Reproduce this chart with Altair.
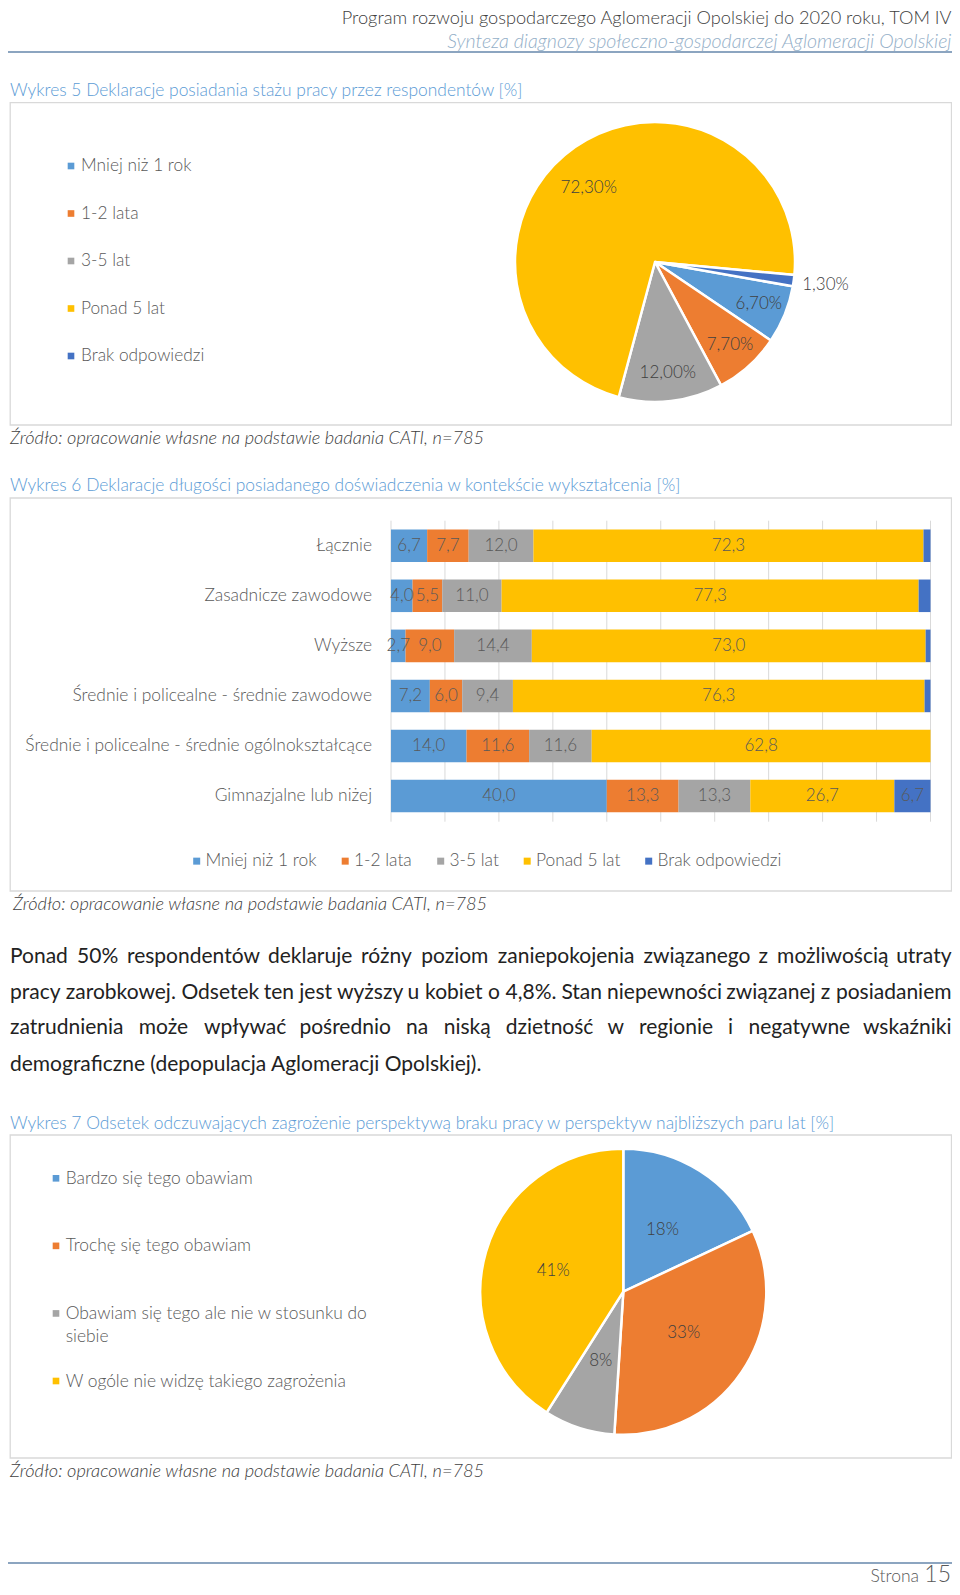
import math
import altair as alt
import pandas as pd

OFF = 8
FONT = "Lato"
GRAY = "#595959"
DARK = "#404040"
TITLE_BLUE = "#5B9BD5"
PALETTE = ["#5B9BD5", "#ED7D31", "#A5A5A5", "#FFC000", "#4472C4"]
RIGHT = 951.5

# ---------------- data ----------------
exp_cats = ["Mniej niż 1 rok", "1-2 lata", "3-5 lat", "Ponad 5 lat", "Brak odpowiedzi"]
exp_vals = [6.7, 7.7, 12.0, 72.3, 1.3]

edu_cats = [
    "Łącznie",
    "Zasadnicze zawodowe",
    "Wyższe",
    "Średnie i policealne - średnie zawodowe",
    "Średnie i policealne - średnie ogólnokształcące",
    "Gimnazjalne lub niżej",
]
edu_mniej = [6.7, 4.0, 2.7, 7.2, 14.0, 40.0]
edu_12 = [7.7, 5.5, 9.0, 6.0, 11.6, 13.3]
edu_35 = [12.0, 11.0, 14.4, 9.4, 11.6, 13.3]
edu_ponad = [72.3, 77.3, 73.0, 76.3, 62.8, 26.7]
edu_brak = [1.3, 2.2, 0.9, 1.1, 0.0, 6.7]
grid_ticks = [0, 10, 20, 30, 40, 50, 60, 70, 80, 90, 100]

fear_cats = [
    "Bardzo się tego obawiam",
    "Trochę się tego obawiam",
    "Obawiam się tego ale nie w stosunku do siebie",
    "W ogóle nie widzę takiego zagrożenia",
]
fear_vals = [18, 33, 8, 41]

paragraph = [
    "Ponad 50% respondentów deklaruje różny poziom zaniepokojenia związanego z możliwością utraty",
    "pracy zarobkowej. Odsetek ten jest wyższy u kobiet o 4,8%. Stan niepewności związanej z posiadaniem",
    "zatrudnienia może wpływać pośrednio na niską dzietność w regionie i negatywne wskaźniki",
    "demograficzne (depopulacja Aglomeracji Opolskiej).",
]
source_txt = "Źródło: opracowanie własne na podstawie badania CATI, n=785"


# ---------------- helpers ----------------
def one():
    return pd.DataFrame({"t": [""]})


def label(text, x, y, size, color, align="left", style="normal", weight=300, baseline="middle"):
    return alt.Chart(pd.DataFrame({"t": [text]})).mark_text(
        align=align, baseline=baseline, fontSize=size, color=color, font=FONT,
        fontStyle=style, fontWeight=weight,
    ).encode(text="t:N", x=alt.value(x - OFF), y=alt.value(y - OFF))


def box(x0, y0, x1, y1):
    return alt.Chart(one()).mark_rect(fill="white", stroke="#D9D9D9", strokeWidth=1.3).encode(
        x=alt.value(x0 - OFF), x2=alt.value(x1 - OFF), y=alt.value(y0 - OFF), y2=alt.value(y1 - OFF))


def hrule(x0, x1, y, color, w):
    return alt.Chart(one()).mark_rule(color=color, strokeWidth=w).encode(
        x=alt.value(x0 - OFF), x2=alt.value(x1 - OFF), y=alt.value(y - OFF))


CW = {
    "a": .50, "ą": .50, "b": .56, "c": .46, "ć": .46, "d": .56, "e": .52, "ę": .52, "f": .32, "g": .50,
    "h": .56, "i": .24, "j": .24, "k": .50, "l": .24, "ł": .27, "m": .84, "n": .56, "ń": .56, "o": .56,
    "ó": .56, "p": .56, "q": .56, "r": .36, "s": .42, "ś": .42, "t": .34, "u": .56, "v": .50, "w": .76,
    "x": .49, "y": .50, "z": .45, "ż": .45, "ź": .45, " ": .19, ",": .22, ".": .22, "(": .30, ")": .30,
    "%": .78, "A": .68, "O": .78, "P": .58, "S": .50, "W": 1.0,
}


def em(s):
    return sum(CW.get(c, 0.58 if c.isdigit() else (0.65 if c.isupper() else 0.53)) for c in s)


def justified(line, x0, x1, y, size, color):
    words = line.split(" ")
    widths = [em(w) * size for w in words]
    gap = (x1 - x0 - sum(widths)) / (len(words) - 1)
    xs, pos = [], x0
    for w in widths:
        xs.append(pos)
        pos += w + gap
    df = pd.DataFrame({"w": words[:-1], "x": [v - OFF for v in xs[:-1]], "y": [y - OFF] * (len(words) - 1)})
    left = alt.Chart(df).mark_text(align="left", baseline="middle", fontSize=size, color=color,
                                   font=FONT, fontWeight=400).encode(
        text="w:N", x=alt.X("x:Q", scale=None), y=alt.Y("y:Q", scale=None))
    last = label(words[-1], x1, y, size, color, align="right", weight=400)
    return [left, last]


# ---------------- pie 1 ----------------
df_exp = pd.DataFrame({"cat": exp_cats, "v": exp_vals, "o": list(range(len(exp_cats)))})
df_exp["lab"] = [f"{v:.2f}".replace(".", ",") + "%" for v in exp_vals]
a0 = math.radians(100)
exp_color = alt.Color("cat:N", scale=alt.Scale(domain=exp_cats, range=PALETTE), legend=None)
base1 = alt.Chart(df_exp).encode(
    theta=alt.Theta("v:Q", stack=True, scale=alt.Scale(domain=[0, 100], range=[a0, a0 + 2 * math.pi])),
    order=alt.Order("o:Q"),
    x=alt.value(655 - OFF), y=alt.value(262 - OFF),
)
arc1 = base1.mark_arc(outerRadius=140, stroke="white", strokeWidth=2.5).encode(color=exp_color)
pie_txt = dict(fontSize=17, color=DARK, font=FONT, fontWeight=300)
in1 = base1.transform_calculate(li="datum.v >= 2 && datum.v < 50 ? datum.lab : ''").mark_text(
    radius=112, **pie_txt).encode(detail="cat:N", text="li:N")
big1 = base1.transform_calculate(lb="datum.v >= 50 ? datum.lab : ''").mark_text(
    radius=95, dx=-12, dy=4, **pie_txt).encode(detail="cat:N", text="lb:N")
out1 = base1.transform_calculate(lo="datum.v < 2 ? datum.lab : ''").mark_text(
    radius=172, **pie_txt).encode(detail="cat:N", text="lo:N")
leg1_y = alt.Y("cat:N", sort=exp_cats, scale=alt.Scale(range=[166 - OFF, 356 - OFF], padding=0), axis=None)
leg1_sym = alt.Chart(df_exp).mark_square(size=44, opacity=1).encode(
    y=leg1_y, x=alt.value(71 - OFF), color=exp_color)
leg1_txt = alt.Chart(df_exp).mark_text(align="left", baseline="middle", fontSize=17.3, color=GRAY,
                                       font=FONT, fontWeight=300).encode(
    y=leg1_y, x=alt.value(81 - OFF), text="cat:N")
pie1 = alt.layer(arc1, in1, big1, out1, leg1_sym, leg1_txt)

# ---------------- stacked bars ----------------
rows = []
for si, (sname, vals) in enumerate(zip(exp_cats, [edu_mniej, edu_12, edu_35, edu_ponad, edu_brak])):
    for c, v in zip(edu_cats, vals):
        rows.append({"cat": c, "s": sname, "so": si, "v": v, "lab": f"{v:.1f}".replace(".", ",")})
df_edu = pd.DataFrame(rows)

ybar = alt.Y("cat:N", sort=edu_cats, axis=None,
             scale=alt.Scale(range=[520.7 - OFF, 821.1 - OFF], paddingInner=0.35, paddingOuter=0.175))
xs = alt.Scale(domain=[0, 100], range=[391 - OFF, 930.5 - OFF])
grid = alt.Chart(pd.DataFrame({"t": grid_ticks})).mark_rule(color="#D9D9D9", strokeWidth=1).encode(
    x=alt.X("t:Q", scale=xs, axis=None), y=alt.value(520.7 - OFF), y2=alt.value(821.7 - OFF))
bars = alt.Chart(df_edu).mark_bar().encode(
    y=ybar,
    x=alt.X("v:Q", stack="zero", scale=xs, axis=None),
    color=alt.Color("s:N", scale=alt.Scale(domain=exp_cats, range=PALETTE),
                    legend=alt.Legend(orient="none", legendX=188 - OFF, legendY=852 - OFF,
                                      direction="horizontal", columns=5, title=None,
                                      symbolType="square", symbolSize=49, symbolStrokeWidth=0,
                                      labelFont=FONT, labelFontSize=17.4, labelColor=GRAY,
                                      labelFontWeight=300, labelOffset=0, columnPadding=19.5,
                                      padding=0)),
    order=alt.Order("so:Q"),
)
bar_txt = alt.Chart(df_edu).transform_window(
    cum="sum(v)", groupby=["cat"], sort=[alt.SortField("so")], frame=[None, 0]
).transform_calculate(mid="datum.cum - datum.v / 2").transform_filter(
    "datum.v > 0 && (datum.s != 'Brak odpowiedzi' || datum.v > 5)"
).mark_text(fontSize=17, color=GRAY, font=FONT, fontWeight=300).encode(
    y=ybar, x=alt.X("mid:Q", scale=xs, axis=None), text="lab:N")
cat_txt = alt.Chart(pd.DataFrame({"cat": edu_cats})).mark_text(
    align="right", baseline="middle", fontSize=17.4, color=GRAY, font=FONT, fontWeight=300).encode(
    y=ybar, x=alt.value(372 - OFF), text="cat:N")
barchart = alt.layer(grid, bars, bar_txt, cat_txt)

# ---------------- pie 2 ----------------
fear_pal = PALETTE[:4]
df_fear = pd.DataFrame({"cat": fear_cats, "v": fear_vals, "o": list(range(len(fear_cats)))})
df_fear["lab"] = [f"{v}%" for v in fear_vals]
df_fear["leg"] = [c.replace(" do siebie", " do|siebie") for c in fear_cats]
fear_color = alt.Color("cat:N", scale=alt.Scale(domain=fear_cats, range=fear_pal), legend=None)
base2 = alt.Chart(df_fear).encode(
    theta=alt.Theta("v:Q", stack=True, scale=alt.Scale(domain=[0, 100], range=[0, 2 * math.pi])),
    order=alt.Order("o:Q"),
    x=alt.value(623.3 - OFF), y=alt.value(1291.7 - OFF),
)
arc2 = base2.mark_arc(outerRadius=143, stroke="white", strokeWidth=2.5).encode(color=fear_color)
in2 = base2.mark_text(radius=73, **pie_txt).encode(detail="cat:N", text="lab:N")
leg2_y = alt.Y("cat:N", sort=fear_cats, scale=alt.Scale(range=[1178.3 - OFF, 1381 - OFF], padding=0), axis=None)
leg2_sym = alt.Chart(df_fear).mark_square(size=44, opacity=1).encode(
    y=leg2_y, x=alt.value(56 - OFF), color=fear_color)
leg2_txt = alt.Chart(df_fear).mark_text(align="left", baseline="alphabetic", dy=5.5, fontSize=17.4,
                                        color=GRAY, font=FONT, fontWeight=300, lineBreak="|",
                                        lineHeight=23).encode(
    y=leg2_y, x=alt.value(65.7 - OFF), text="leg:N")
pie2 = alt.layer(arc2, in2, leg2_sym, leg2_txt)

# ---------------- page furniture ----------------
layers = [
    label("Program rozwoju gospodarczego Aglomeracji Opolskiej do 2020 roku, TOM IV", RIGHT, 19, 18.2, DARK,
          align="right"),
    label("Synteza diagnozy społeczno-gospodarczej Aglomeracji Opolskiej", RIGHT, 42, 19.6, "#94AFC8",
          align="right", style="italic"),
    hrule(8, 952, 52, "#8CA5C0", 2),
    label("Wykres 5 Deklaracje posiadania stażu pracy przez respondentów [%]", 10, 90.5, 17.4, TITLE_BLUE),
    box(10.2, 102.7, RIGHT, 425),
    label(source_txt, 10, 439, 18.2, DARK, style="italic"),
    label("Wykres 6 Deklaracje długości posiadanego doświadczenia w kontekście wykształcenia [%]", 10, 486, 17.4,
          TITLE_BLUE),
    box(10.2, 498, RIGHT, 891),
    label(source_txt, 13, 905, 18.2, DARK, style="italic"),
    label("Wykres 7 Odsetek odczuwających zagrożenie perspektywą braku pracy w perspektyw najbliższych paru lat [%]",
          10, 1124, 17.4, TITLE_BLUE),
    box(10.2, 1135, RIGHT, 1458),
    label(source_txt, 10, 1471.5, 18.2, DARK, style="italic"),
    hrule(8, 952, 1563, "#8CA5C0", 2),
    label("Strona", 919, 1582, 17.5, GRAY, align="right", baseline="alphabetic"),
    label("15", 951, 1582, 23, GRAY, align="right", baseline="alphabetic"),
]
para_y = [957, 992.6, 1028.2, 1064.8]
avail = RIGHT - 10
fit = min(avail / (em(l) + 0.02 * len(l.split(" "))) for l in paragraph[:3])
para_size = min(21.0, fit)
for i, line in enumerate(paragraph[:3]):
    layers += justified(line, 10, RIGHT, para_y[i], para_size, "#222222")
layers.append(label(paragraph[3], 10, para_y[3], para_size, "#222222", weight=400))

chart = alt.layer(*layers, pie1, barchart, pie2).resolve_scale(
    x="independent", y="independent", color="independent", theta="independent"
).resolve_legend(color="independent").properties(
    width=944, height=1579, padding=0, autosize=alt.AutoSizeParams(type="none"),
    background="white",
).configure_view(stroke=None)

chart.save("out.html", embed_options={"renderer": "svg", "actions": False})
